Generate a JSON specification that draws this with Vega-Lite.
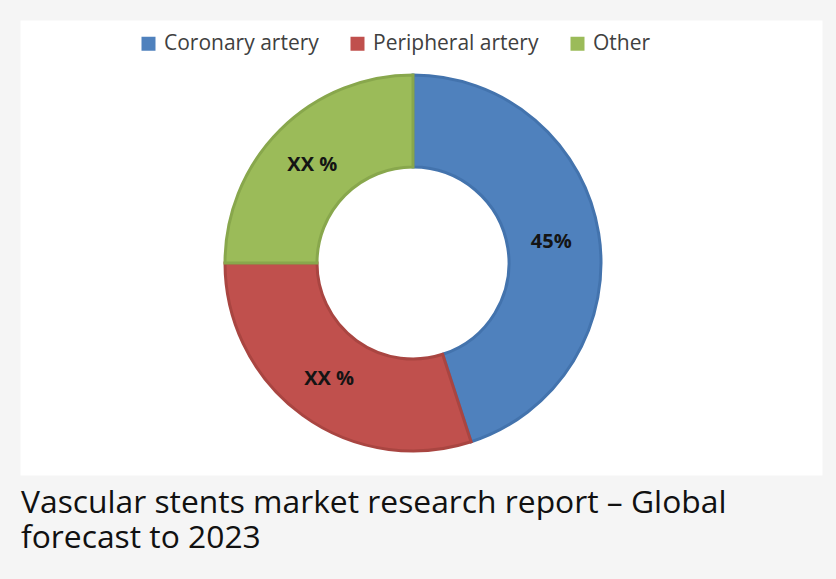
{
  "$schema": "https://vega.github.io/schema/vega-lite/v6.json",
  "width": 802,
  "height": 455,
  "autosize": "none",
  "padding": {"left": 20, "top": 20, "right": 14, "bottom": 104},
  "background": "#f5f5f5",
  "view": {"fill": "#ffffff", "stroke": "transparent"},
  "config": {
    "font": "Open Sans"
  },
  "title": {
    "text": ["Vascular stents market research report – Global", "forecast to 2023"],
    "orient": "bottom",
    "anchor": "start",
    "offset": 13,
    "fontSize": 31.8,
    "fontWeight": "normal",
    "font": "Open Sans",
    "color": "#111111",
    "lineHeight": 35,
    "dx": 1
  },
  "data": {
    "values": [
      {"category": "Coronary artery", "share": 45, "label": "45%", "rank": 1},
      {"category": "Peripheral artery", "share": 30, "label": "XX %", "rank": 2},
      {"category": "Other", "share": 25, "label": "XX %", "rank": 3}
    ]
  },
  "encoding": {
    "theta": {"field": "share", "type": "quantitative", "stack": true},
    "order": {"field": "rank", "type": "quantitative"}
  },
  "layer": [
    {
      "mark": {"type": "arc", "innerRadius": 96, "outerRadius": 188, "strokeWidth": 3, "xOffset": -8, "yOffset": 15.5},
      "encoding": {
        "color": {
          "field": "category",
          "type": "nominal",
          "sort": ["Coronary artery", "Peripheral artery", "Other"],
          "scale": {"domain": ["Coronary artery", "Peripheral artery", "Other"], "range": ["#4f81bd", "#c0504d", "#9bbb59"]},
          "legend": {
            "title": null,
            "orient": "none",
            "legendX": 118,
            "legendY": 13,
            "direction": "horizontal",
            "symbolType": "square",
            "symbolSize": 196,
            "symbolStrokeWidth": 0,
            "labelFont": "Open Sans",
            "labelFontSize": 21,
            "labelColor": "#404040",
            "labelOffset": 5,
            "labelLimit": 400,
            "columnPadding": 28
          }
        },
        "stroke": {
          "field": "category",
          "type": "nominal",
          "scale": {"domain": ["Coronary artery", "Peripheral artery", "Other"], "range": ["#4373ad", "#a94541", "#88a74c"]},
          "legend": null
        }
      }
    },
    {
      "mark": {"type": "text", "radius": 141, "xOffset": -9, "yOffset": 17, "font": "Open Sans", "fontSize": 20, "fontWeight": "bold", "color": "#141414", "align": "center", "baseline": "middle"},
      "encoding": {
        "text": {"field": "label", "type": "nominal"}
      }
    }
  ]
}
